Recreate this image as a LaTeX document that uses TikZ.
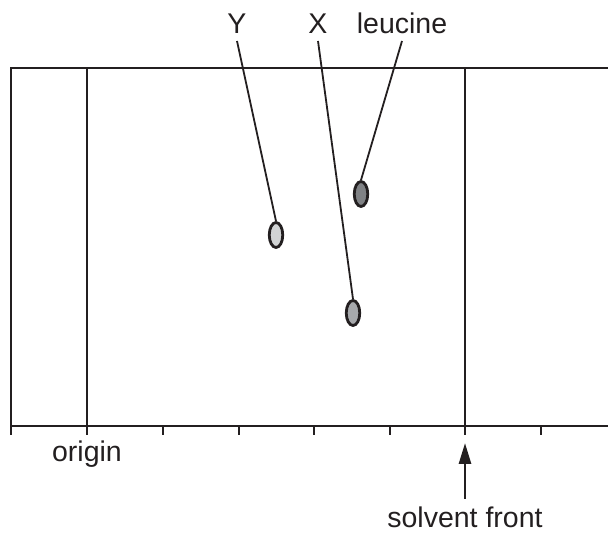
\documentclass[tikz,border=0pt]{standalone}
\usepackage{fontspec}
\setmainfont{Liberation Sans}
\usetikzlibrary{arrows.meta, shapes.geometric}
\definecolor{ylight}{HTML}{D1D3D4}
\definecolor{xmid}{HTML}{A7A9AC}
\definecolor{leudark}{HTML}{808285}
\definecolor{inkc}{HTML}{231F20}

\begin{document}
\begin{tikzpicture}[x=1pt, y=-1pt, line width=2.8pt, inkc,
    spot/.style={ellipse, draw=inkc, line width=2.8pt,
      minimum width=13.5pt, minimum height=25pt, inner sep=0pt},
    lbl/.style={font=\fontsize{28.5}{32}\selectfont, anchor=south,
      inner xsep=0pt, inner ysep=6pt, text depth=0pt},
    lead/.style={line width=1.8pt}]
  \useasboundingbox (0,0) rectangle (608,534);
  % plate and scale
  \draw (608,68) -- (11,68) -- (11,435);
  \draw (11,426) -- (608,426);
  \foreach \x in {87,465} \draw (\x,68) -- (\x,435);
  \foreach \x in {163,239,314,390,541} \draw (\x,426) -- (\x,435);
  % spots
  \node[spot, fill=ylight] (yspot) at (276,235) {};
  \node[spot, fill=xmid] (xspot) at (353,313) {};
  \node[spot, fill=leudark] (leuspot) at (361,194) {};
  \node[lbl] (ylab) at (237,41) {Y};
  \node[lbl] (xlab) at (318,41) {X};
  \node[lbl] (leulab) at (402,41) {leucine};
  \draw[lead] (ylab.south) -- (yspot.north);
  \draw[lead] (xlab.south) -- (xspot.north);
  \draw[lead] (leulab.south) -- (leuspot.north);
  \node[lbl, anchor=base] (orig) at (87,461) {origin};
  \node[lbl, anchor=base] (sf) at (465,527) {solvent front};
  \coordinate (ftip) at (465,443);
  \draw[-{Triangle[length=21pt, width=12pt]}] (sf.north) -- (ftip);
\end{tikzpicture}
\end{document}
